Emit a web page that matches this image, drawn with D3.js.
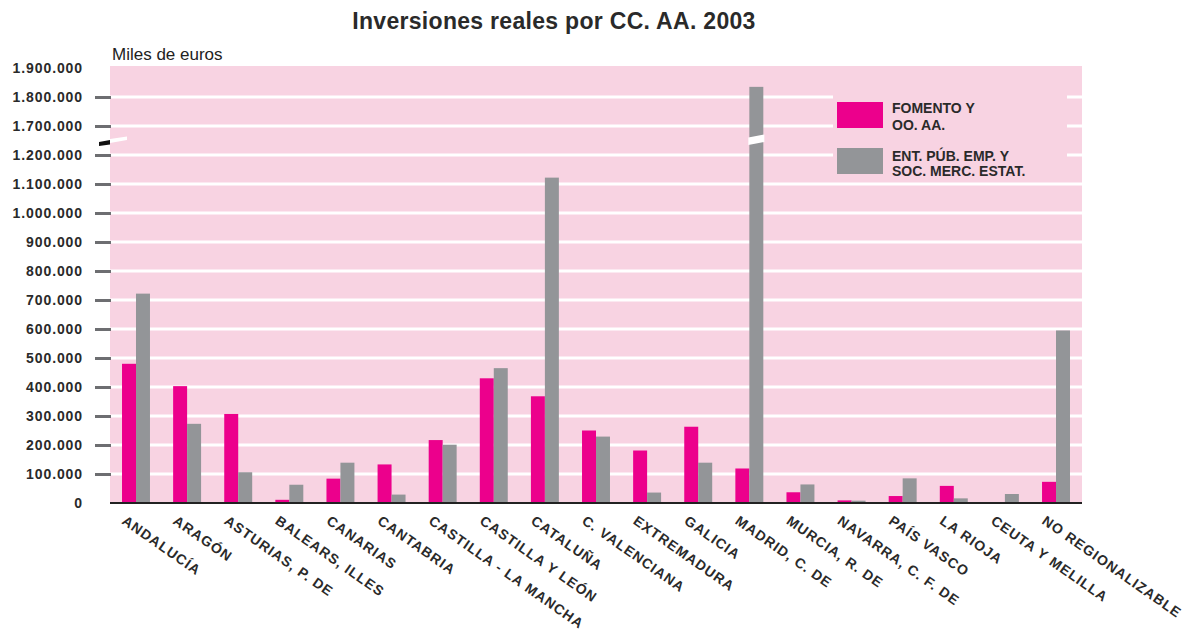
<!DOCTYPE html>
<html><head><meta charset="utf-8">
<script src="https://cdn.jsdelivr.net/npm/d3@7"></script>
<style>
body{margin:0;background:#fff;}
svg{display:block;font-family:"Liberation Sans",Arial,Helvetica,sans-serif;}
</style></head>
<body>
<svg id="chart" width="1204" height="635"></svg>
<script>
const categories = ["ANDALUCÍA","ARAGÓN","ASTURIAS, P. DE","BALEARS, ILLES","CANARIAS","CANTABRIA","CASTILLA - LA MANCHA","CASTILLA Y LEÓN","CATALUÑA","C. VALENCIANA","EXTREMADURA","GALICIA","MADRID, C. DE","MURCIA, R. DE","NAVARRA, C. F. DE","PAÍS VASCO","LA RIOJA","CEUTA Y MELILLA","NO REGIONALIZABLE"];
const fomento = [480000,403000,307000,11000,84000,133000,217000,430000,368000,250000,181000,263000,119000,37000,9000,24000,59000,0,73000];
const entPub = [722000,273000,106000,63000,139000,29000,201000,465000,1122000,229000,36000,139000,1835000,64000,8000,85000,16000,31000,595000];
const seriesNames = ["FOMENTO Y\nOO. AA.","ENT. PÚB. EMP. Y\nSOC. MERC. ESTAT."];
const tickValues = [0,100000,200000,300000,400000,500000,600000,700000,800000,900000,1000000,1100000,1200000,1700000,1800000,1900000];
const breakLow = 1200000, breakHigh = 1700000, breakGap = 400000;

const colors = ["#ec008c","#939598"];
const pink = "#f8d3e2";
const svg = d3.select("#chart");
const L = 110, R = 1082, T = 66, B = 503;

const compress = v => v > breakLow ? v - breakGap : v;
const expand = v => v > breakLow ? v + breakGap : v;
const yLin = d3.scaleLinear().domain([0, 1500000]).range([B, 68]);
const y = v => yLin(compress(v));

const x0 = d3.scaleBand().domain(categories).range([L, R]).paddingInner(0.453).paddingOuter(0.235);
const x1 = d3.scaleBand().domain([0,1]).range([0, x0.bandwidth()]);

const loc = d3.formatLocale({decimal:",", thousands:".", grouping:[3], currency:["","€"]});
const fmt = loc.format(",d");

// title
svg.append("text").attr("x",554).attr("y",29).attr("text-anchor","middle")
  .style("font-size","23px").style("font-weight","bold").attr("fill","#2a2a2a")
  .style("letter-spacing","0.3px")
  .text("Inversiones reales por CC. AA. 2003");
svg.append("text").attr("x",112).attr("y",60).style("font-size","17px").attr("fill","#222")
  .text("Miles de euros");

// plot background
svg.append("rect").attr("x",L).attr("y",T).attr("width",R-L).attr("height",B-T).attr("fill",pink);

// gridlines
const gridVals = tickValues.filter(v => v !== 0 && v !== 1900000);
svg.append("g").selectAll("line").data(gridVals).join("line")
  .attr("x1",L).attr("x2",R).attr("y1",d=>y(d)).attr("y2",d=>y(d))
  .attr("stroke","#fff").attr("stroke-width",3);

// legend background (interrupts gridlines)
svg.append("rect").attr("x",833).attr("y",86).attr("width",234).attr("height",92).attr("fill",pink);

// axis
const axis = d3.axisLeft(yLin).tickValues(tickValues.map(compress))
  .tickFormat(d => fmt(expand(d))).tickSize(16).tickPadding(12);
const gA = svg.append("g").attr("transform",`translate(111,0)`).call(axis);
gA.select(".domain").remove();
gA.selectAll(".tick line").attr("stroke","#6d6e71").attr("stroke-width",3)
  .attr("opacity", d => (expand(d) === 0 || expand(d) === 1900000) ? 0 : 1);
gA.selectAll(".tick text").attr("fill","#2a2a2a").style("font-size","14px")
  .style("font-weight","bold").style("letter-spacing","0.9px")
  .style("font-family","'Liberation Sans',Arial,sans-serif");

// bars
const data = categories.map((c,i)=>({c, v:[fomento[i], entPub[i]]}));
const groups = svg.append("g").selectAll("g").data(data).join("g")
  .attr("transform", d => `translate(${x0(d.c)},0)`);
groups.selectAll("rect").data(d => d.v.map((v,k)=>({v,k}))).join("rect")
  .attr("x", d => x1(d.k)).attr("width", x1.bandwidth())
  .attr("y", d => y(d.v)).attr("height", d => B - y(d.v))
  .attr("fill", d => colors[d.k]);

// break gap on bars above the break
const breakY = (y(breakLow) + y(breakHigh)) / 2;
data.forEach(d => {
  d.v.forEach((v,k) => {
    if (v > breakLow) {
      const lx = x0(d.c) + x1(k) - 1, rx = lx + x1.bandwidth() + 2;
      svg.append("polygon")
        .attr("points", `${lx},${breakY-3} ${rx},${breakY-6} ${rx},${breakY+1.5} ${lx},${breakY+4.5}`)
        .attr("fill","#fff");
    }
  });
});

// axis break marker
svg.append("polygon").attr("points",`99,${breakY+1.5} 110,${breakY-0.5} 110,${breakY+4} 99,${breakY+5.5}`).attr("fill","#111");
svg.append("polygon").attr("points",`110,${breakY-1.5} 127,${breakY-4} 127,${breakY-0.5} 110,${breakY+2.5}`).attr("fill","#fff");

// baseline
svg.append("line").attr("x1",L).attr("x2",R).attr("y1",B).attr("y2",B).attr("stroke","#222").attr("stroke-width",2);

// x labels
svg.append("g").selectAll("text").data(categories).join("text")
  .attr("transform", d => `translate(${x0(d) - 1},523) rotate(35)`)
  .style("font-size","14px").style("font-weight","bold").style("letter-spacing","1px")
  .attr("fill","#2a2a2a").text(d => d);

// legend
const lg = svg.append("g");
[[102,[113,130]],[148,[161,176]]].forEach(([ry, lines], k) => {
  lg.append("rect").attr("x",837).attr("y",ry).attr("width",46).attr("height",26).attr("fill",colors[k]);
  const parts = seriesNames[k].split("\n");
  parts.forEach((t,j) => lg.append("text").attr("x",892).attr("y",lines[j])
    .style("font-size","14px").style("font-weight","bold").attr("fill","#2a2a2a").text(t));
});
</script>
</body></html>
